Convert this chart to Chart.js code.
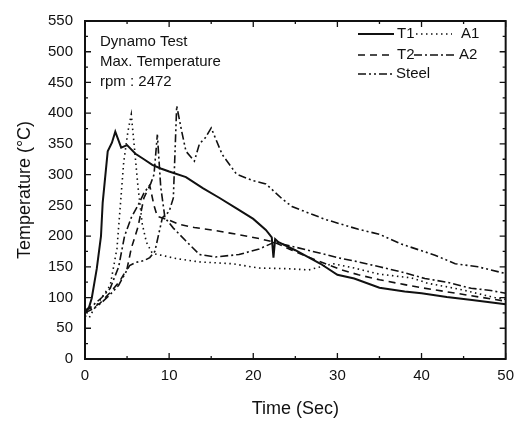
<!DOCTYPE html>
<html>
<head>
<meta charset="utf-8">
<script src="https://cdn.jsdelivr.net/npm/chart.js@4/dist/chart.umd.min.js"></script>
<style>
  html, body { margin: 0; padding: 0; background: #fff; }
  #wrap { width: 522px; height: 421px; }
</style>
</head>
<body>
<div id="wrap"><canvas id="chart"></canvas></div>
<script>
// values (time in s, temperature in °C)
const t1Time = [0, 0.5, 0.8, 1.4, 1.9, 2.1, 2.7, 3.2, 3.6, 4.3, 5, 6, 7, 8, 9, 10, 12, 14, 16, 18, 20, 21.5, 22.2, 22.4, 22.6, 23, 25, 28, 30, 32, 35, 38, 40, 43, 46, 50];
const t1Temp = [75, 85, 99, 147, 200, 254, 338, 352, 370, 344, 348, 334, 325, 316, 310, 305, 296, 278, 262, 245, 228, 210, 198, 165, 195, 190, 177, 155, 137, 131, 116, 110, 107, 101, 96, 89];

const a1Time = [0, 0.5, 1, 2, 3, 3.8, 4.2, 4.6, 5.1, 5.5, 5.9, 6.3, 6.8, 7.3, 8, 9, 11, 13.6, 17.5, 20.7, 24, 26.6, 28, 29.5, 32, 35, 38.8, 40.8, 42.8, 45, 48.7, 50];
const a1Temp = [70, 67, 80, 100, 120, 180, 250, 320, 370, 398, 340, 280, 220, 190, 172, 169, 163, 158, 155, 148, 147, 145, 150, 155, 148, 138, 132, 123, 118, 112, 100, 97];

const t2Time = [0, 1, 1.8, 2.9, 4.1, 5, 5.5, 6.3, 7, 7.7, 8.2, 8.6, 10, 11.2, 13, 15.5, 18, 20.7, 22.5, 24.6, 26.7, 28.6, 30.5, 32.5, 35, 38, 40, 45, 50];
const t2Temp = [80, 84, 91, 107, 126, 147, 180, 215, 262, 282, 250, 232, 226, 219, 214, 209, 203, 196, 190, 177, 165, 155, 145, 137, 129, 121, 116, 105, 94];

const a2Time = [0, 1, 2, 3, 4, 4.7, 5.5, 6.3, 7, 7.8, 8.2, 8.6, 9, 9.5, 10.5, 12, 13.6, 15.5, 18.3, 20.7, 22.5, 25, 28, 30, 32.5, 35, 37.5, 40.4, 43, 45.9, 48, 50];
const a2Temp = [78, 88, 100, 115, 150, 200, 230, 250, 270, 285, 300, 365, 280, 230, 213, 192, 170, 166, 170, 179, 190, 182, 172, 165, 158, 150, 142, 131, 125, 115, 112, 107];

const steelTime = [0, 1, 2, 3, 4, 4.6, 5.3, 6, 7, 7.7, 8.3, 9.2, 10, 10.5, 10.9, 11.5, 12, 13, 13.6, 14.3, 15, 16.3, 18, 20, 21.5, 23.4, 24.6, 28.6, 32.5, 35, 37.6, 41.6, 44, 46.7, 50];
const steelTemp = [75, 82, 92, 105, 120, 135, 152, 157, 160, 165, 175, 230, 240, 262, 412, 370, 338, 322, 350, 360, 376, 333, 301, 290, 285, 261, 248, 227, 211, 203, 187, 169, 155, 150, 139];

const noteLines = ["Dynamo Test", "Max. Temperature", "rpm : 2472"];

const FONT = "'Liberation Sans', Arial, sans-serif";
const INK = "#111";

function pts(xs, ys) {
  return xs.map((x, i) => ({ x: x, y: ys[i] }));
}

const series = [
  { label: "T1", data: pts(t1Time, t1Temp), dash: [], width: 2 },
  { label: "A1", data: pts(a1Time, a1Temp), dash: [1.5, 3.5], width: 1.6 },
  { label: "T2", data: pts(t2Time, t2Temp), dash: [7, 5], width: 1.6 },
  { label: "A2", data: pts(a2Time, a2Temp), dash: [8, 3, 2, 3], width: 1.6 },
  { label: "Steel", data: pts(steelTime, steelTemp), dash: [8, 3, 2, 3, 2, 3], width: 1.6 }
];

// frame, inward ticks, note text and legend
const decor = {
  id: "decor",
  afterDraw(chart) {
    const ctx = chart.ctx;
    const a = chart.chartArea;
    const xs = chart.scales.x, ys = chart.scales.y;
    ctx.save();
    ctx.strokeStyle = INK;
    ctx.lineWidth = 2;
    ctx.setLineDash([]);
    ctx.strokeRect(a.left, a.top, a.right - a.left, a.bottom - a.top);

    ctx.lineWidth = 1.3;
    ctx.beginPath();
    for (let v = 0; v <= 50; v += 5) {
      const px = xs.getPixelForValue(v);
      const len = v % 10 === 0 ? 6 : 3;
      ctx.moveTo(px, a.bottom); ctx.lineTo(px, a.bottom - len);
      ctx.moveTo(px, a.top); ctx.lineTo(px, a.top + len);
    }
    for (let v = 0; v <= 550; v += 25) {
      const py = ys.getPixelForValue(v);
      const len = v % 50 === 0 ? 6 : 3;
      ctx.moveTo(a.left, py); ctx.lineTo(a.left + len, py);
      ctx.moveTo(a.right, py); ctx.lineTo(a.right - len, py);
    }
    ctx.stroke();

    ctx.fillStyle = INK;
    ctx.font = "15px " + FONT;
    ctx.textBaseline = "middle";
    ctx.textAlign = "left";
    noteLines.forEach((s, i) => ctx.fillText(s, a.left + 15, a.top + 21 + i * 20));

    // legend: two columns, sample line left of each label
    const rows = [
      [{ s: series[0], x0: 358, x1: 394, tx: 397 }, { s: series[1], x0: 416, x1: 452, tx: 461 }],
      [{ s: series[2], x0: 358, x1: 394, tx: 397 }, { s: series[3], x0: 414, x1: 455, tx: 459 }],
      [{ s: series[4], x0: 358, x1: 392, tx: 396 }]
    ];
    const rowY = [34, 55, 74];
    rows.forEach((row, r) => {
      row.forEach(it => {
        ctx.beginPath();
        ctx.lineWidth = it.s.width;
        ctx.setLineDash(it.s.dash);
        ctx.moveTo(it.x0, rowY[r]);
        ctx.lineTo(it.x1, rowY[r]);
        ctx.stroke();
        ctx.setLineDash([]);
        ctx.fillText(it.s.label, it.tx, rowY[r]);
      });
    });
    ctx.restore();
  }
};

new Chart(document.getElementById("chart"), {
  type: "line",
  data: {
    datasets: series.map(s => ({
      label: s.label,
      data: s.data,
      borderColor: INK,
      borderWidth: s.width,
      borderDash: s.dash,
      pointRadius: 0,
      tension: 0,
      fill: false
    }))
  },
  options: {
    responsive: true,
    maintainAspectRatio: false,
    animation: false,
    devicePixelRatio: 1,
    layout: { padding: { left: 0, right: 14, top: 14, bottom: 0 } },
    plugins: { legend: { display: false }, tooltip: { enabled: false } },
    scales: {
      x: {
        type: "linear",
        min: 0,
        max: 50,
        afterFit(s) { s.height = 62; },
        ticks: { stepSize: 10, color: INK, font: { family: FONT, size: 15 }, padding: 8, maxRotation: 0 },
        grid: { display: false, drawTicks: false },
        border: { display: false },
        title: { display: true, text: "Time (Sec)", color: INK, font: { family: FONT, size: 18 }, padding: { top: 4, bottom: 1 } }
      },
      y: {
        type: "linear",
        min: 0,
        max: 550,
        afterFit(s) { s.width = 85; },
        ticks: { stepSize: 50, color: INK, font: { family: FONT, size: 15 }, padding: 12 },
        grid: { display: false, drawTicks: false },
        border: { display: false },
        title: { display: true, text: "Temperature (\u00B0C)", color: INK, font: { family: FONT, size: 18 }, padding: { top: 14, bottom: 0 } }
      }
    }
  },
  plugins: [decor]
});
</script>
</body>
</html>
